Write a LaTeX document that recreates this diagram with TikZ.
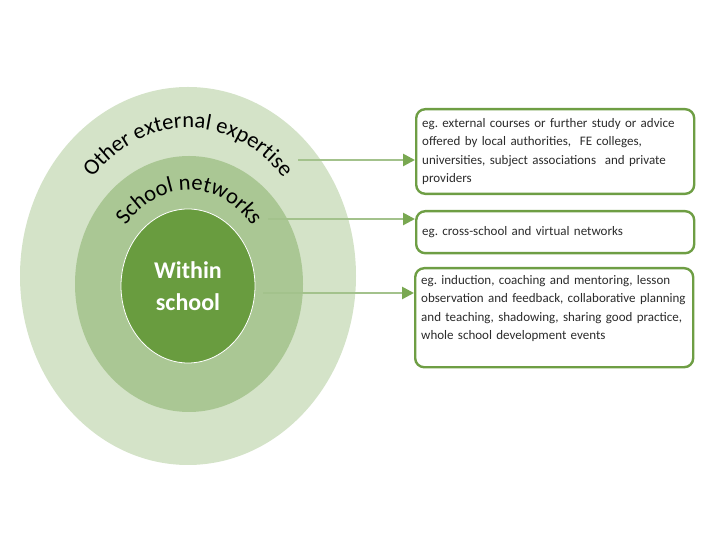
\documentclass[tikz,border=0pt]{standalone}
\usepackage{fontspec}
\setmainfont{Carlito}
\usetikzlibrary{shapes.geometric, arrows.meta, decorations.text}

\definecolor{outerfill}{HTML}{D4E3C8}
\definecolor{middlefill}{HTML}{AAC794}
\definecolor{innerfill}{HTML}{699C3F}
\definecolor{boxline}{HTML}{6E9E44}
\definecolor{linkline}{HTML}{A3C28C}
\definecolor{tipfill}{HTML}{79A851}
\definecolor{boxtext}{HTML}{2B2B2B}

\newcommand{\ringfont}{\fontsize{22.5}{22.5}\selectfont}

\begin{document}
\frenchspacing
\begin{tikzpicture}[
    x=1pt, y=1pt,
    %% ── Ring styles ─────────────────────────────────────────────────────
    ring/.style={ellipse, inner sep=0pt},
    outerring/.style={ring, fill=outerfill, minimum width=336pt, minimum height=378pt},
    middlering/.style={ring, fill=middlefill, minimum width=228pt, minimum height=256pt},
    innerring/.style={
        ring, fill=innerfill, draw=white, line width=0.8pt,
        minimum width=134pt, minimum height=154pt,
        align=center, text=white,
        font=\bfseries\fontsize{24}{32}\selectfont,
    },
    %% ── Box styles ──────────────────────────────────────────────────────
    infobox/.style={
        draw=boxline, line width=2.4pt, rounded corners=9pt,
        fill=white, anchor=north west,
        text width=266pt, inner xsep=6pt, inner ysep=9pt,
        align=left, text=boxtext,
        font=\fontsize{13}{18.5}\selectfont,
    },
    %% ── Arrow styles ────────────────────────────────────────────────────
    %% Pale line, darker filled head at the box
    link/.style={
        draw=linkline, line width=2.6pt,
        -{Triangle[length=12pt, width=12pt, color=tipfill]},
    },
    %% Text bent along a ring
    arclabel/.style={
        decorate,
        decoration={text along path, text align=center, text={|\ringfont|#1}},
    },
]

\useasboundingbox (0,0) rectangle (720,540);

%%─────────────────────────────────────────────────────────────────────────
%% Rings
%%─────────────────────────────────────────────────────────────────────────
\node[outerring]  (outer)  at (188,264) {};
\node[middlering] (middle) at (189,256) {};
\node[innerring]  (inner)  at (188,254) {Within\\school};

\path[arclabel={Other external expertise}]
    (outer.center) ++(162:127pt and 148pt)
    arc[start angle=162, end angle=18, x radius=127pt, y radius=148pt];

\path[arclabel={School networks}]
    (middle.center) ++(158:80pt and 94pt)
    arc[start angle=158, end angle=22, x radius=80pt, y radius=94pt];

%%─────────────────────────────────────────────────────────────────────────
%% Example boxes
%%─────────────────────────────────────────────────────────────────────────
\node[infobox] (outerBox) at (415,432) {
    eg. external courses or further study or advice\\
    offered by local authorities,\ \ FE colleges,\\
    universities, subject associations\ \ and private\\
    providers
};

\node[infobox, minimum height=42pt] (middleBox) at (415,330) {
    eg. cross-school and virtual networks
};

\node[infobox, inner ysep=7pt, text depth=76pt] (innerBox) at (414,273) {
    eg. induction, coaching and mentoring, lesson\\
    observation and feedback, collaborative planning\\
    and teaching, shadowing, sharing good practice,\\
    whole school development events
};

%%─────────────────────────────────────────────────────────────────────────
%% Links
%%─────────────────────────────────────────────────────────────────────────
\coordinate (outerTail)  at (298,380);
\coordinate (middleTail) at (268,321);
\coordinate (innerTail)  at (263,247);

%% Other external expertise ──→ first box
\draw[link] (outerTail) -- (outerTail -| outerBox.west);

%% School networks ──→ second box
\draw[link] (middleTail) -- (middleTail -| middleBox.west);

%% Within school ──→ third box
\draw[link] (innerTail) -- (innerTail -| innerBox.west);

\end{tikzpicture}
\end{document}
